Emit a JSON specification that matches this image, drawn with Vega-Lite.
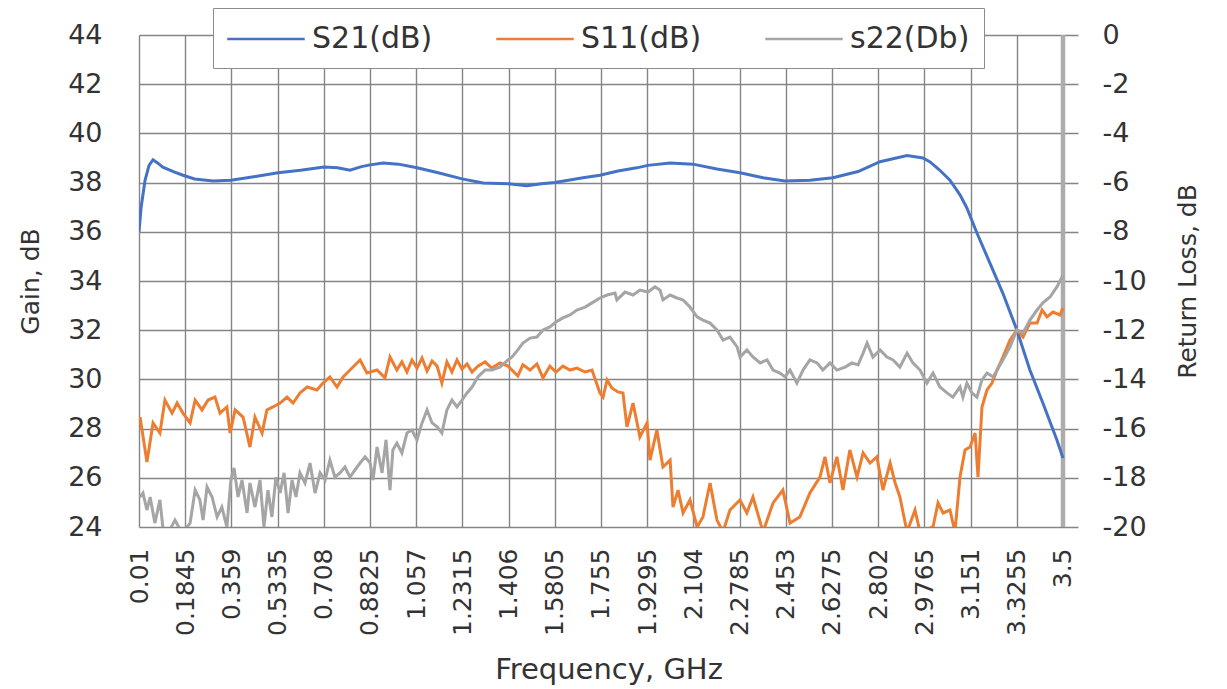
{
  "$schema": "https://vega.github.io/schema/vega-lite/v6.json",
  "width": 939,
  "height": 492,
  "autosize": {"type": "none"},
  "padding": {"left": 139, "top": 35, "right": 149, "bottom": 162},
  "background": "white",
  "config": {
    "view": {"stroke": null},
    "font": "DejaVu Sans",
    "axis": {"labelColor": "#333333", "titleColor": "#333333", "titleFontWeight": "normal", "domain": false, "ticks": false, "gridColor": "#858585", "gridWidth": 1.4, "gridOpacity": 1}
  },
  "datasets": {
    "s21": [
      {"f":0.010,"v":36.0},{"f":0.018,"v":37.0},{"f":0.033,"v":38.1},{"f":0.048,"v":38.7},{"f":0.063,"v":38.93},{"f":0.08,"v":38.8},{"f":0.10,"v":38.63},{"f":0.14,"v":38.45},{"f":0.176,"v":38.3},{"f":0.22,"v":38.15},{"f":0.29,"v":38.07},{"f":0.357,"v":38.1},{"f":0.45,"v":38.25},{"f":0.535,"v":38.4},{"f":0.62,"v":38.5},{"f":0.709,"v":38.63},{"f":0.76,"v":38.6},{"f":0.807,"v":38.5},{"f":0.85,"v":38.65},{"f":0.883,"v":38.72},{"f":0.932,"v":38.8},{"f":0.99,"v":38.75},{"f":1.06,"v":38.6},{"f":1.14,"v":38.4},{"f":1.23,"v":38.15},{"f":1.31,"v":37.98},{"f":1.404,"v":37.95},{"f":1.475,"v":37.87},{"f":1.53,"v":37.95},{"f":1.581,"v":38.0},{"f":1.687,"v":38.2},{"f":1.751,"v":38.3},{"f":1.819,"v":38.47},{"f":1.89,"v":38.6},{"f":1.932,"v":38.7},{"f":2.016,"v":38.8},{"f":2.102,"v":38.75},{"f":2.193,"v":38.55},{"f":2.28,"v":38.4},{"f":2.367,"v":38.2},{"f":2.45,"v":38.07},{"f":2.544,"v":38.1},{"f":2.631,"v":38.2},{"f":2.726,"v":38.45},{"f":2.809,"v":38.85},{"f":2.911,"v":39.1},{"f":2.971,"v":39.0},{"f":2.998,"v":38.84},{"f":3.035,"v":38.5},{"f":3.073,"v":38.1},{"f":3.111,"v":37.5},{"f":3.137,"v":36.97},{"f":3.175,"v":35.95},{"f":3.224,"v":34.73},{"f":3.273,"v":33.5},{"f":3.326,"v":32.0},{"f":3.375,"v":30.38},{"f":3.424,"v":29.04},{"f":3.477,"v":27.54},{"f":3.5,"v":26.8}
    ],
    "s11": [
      {"f":0.014,"v":-15.53},{"f":0.040,"v":-17.36},{"f":0.063,"v":-15.77},{"f":0.089,"v":-16.18},{"f":0.108,"v":-14.84},{"f":0.135,"v":-15.37},{"f":0.154,"v":-14.96},{"f":0.176,"v":-15.37},{"f":0.203,"v":-15.77},{"f":0.222,"v":-14.84},{"f":0.248,"v":-15.24},{"f":0.271,"v":-14.84},{"f":0.297,"v":-14.72},{"f":0.316,"v":-15.37},{"f":0.342,"v":-15.12},{"f":0.354,"v":-16.18},{"f":0.373,"v":-15.24},{"f":0.403,"v":-15.53},{"f":0.429,"v":-16.75},{"f":0.448,"v":-15.53},{"f":0.475,"v":-16.18},{"f":0.493,"v":-15.24},{"f":0.516,"v":-15.12},{"f":0.543,"v":-14.96},{"f":0.569,"v":-14.72},{"f":0.592,"v":-14.96},{"f":0.618,"v":-14.55},{"f":0.645,"v":-14.31},{"f":0.682,"v":-14.43},{"f":0.705,"v":-14.15},{"f":0.731,"v":-13.9},{"f":0.758,"v":-14.31},{"f":0.781,"v":-13.9},{"f":0.807,"v":-13.62},{"f":0.845,"v":-13.21},{"f":0.871,"v":-13.74},{"f":0.909,"v":-13.62},{"f":0.939,"v":-13.94},{"f":0.958,"v":-13.09},{"f":0.984,"v":-13.62},{"f":1.003,"v":-13.29},{"f":1.022,"v":-13.7},{"f":1.041,"v":-13.21},{"f":1.060,"v":-13.54},{"f":1.079,"v":-13.13},{"f":1.098,"v":-13.66},{"f":1.117,"v":-13.25},{"f":1.136,"v":-13.46},{"f":1.154,"v":-14.15},{"f":1.173,"v":-13.29},{"f":1.192,"v":-13.7},{"f":1.211,"v":-13.21},{"f":1.230,"v":-13.58},{"f":1.249,"v":-13.37},{"f":1.268,"v":-13.7},{"f":1.290,"v":-13.46},{"f":1.317,"v":-13.29},{"f":1.343,"v":-13.54},{"f":1.373,"v":-13.33},{"f":1.404,"v":-13.46},{"f":1.441,"v":-13.86},{"f":1.460,"v":-13.41},{"f":1.487,"v":-13.62},{"f":1.513,"v":-13.37},{"f":1.536,"v":-13.94},{"f":1.562,"v":-13.46},{"f":1.585,"v":-13.7},{"f":1.611,"v":-13.46},{"f":1.638,"v":-13.62},{"f":1.664,"v":-13.54},{"f":1.695,"v":-13.7},{"f":1.721,"v":-13.62},{"f":1.751,"v":-14.55},{"f":1.763,"v":-14.72},{"f":1.778,"v":-14.02},{"f":1.796,"v":-14.35},{"f":1.819,"v":-14.51},{"f":1.838,"v":-14.55},{"f":1.853,"v":-15.93},{"f":1.876,"v":-14.96},{"f":1.902,"v":-16.34},{"f":1.929,"v":-15.77},{"f":1.940,"v":-17.28},{"f":1.966,"v":-16.06},{"f":1.989,"v":-17.56},{"f":2.016,"v":-17.28},{"f":2.027,"v":-19.19},{"f":2.046,"v":-18.5},{"f":2.065,"v":-19.43},{"f":2.091,"v":-18.9},{"f":2.118,"v":-20.0},{"f":2.140,"v":-19.59},{"f":2.167,"v":-18.21},{"f":2.193,"v":-19.72},{"f":2.216,"v":-20.2},{"f":2.242,"v":-19.31},{"f":2.280,"v":-18.9},{"f":2.306,"v":-19.43},{"f":2.329,"v":-18.78},{"f":2.367,"v":-20.2},{"f":2.405,"v":-19.02},{"f":2.442,"v":-18.5},{"f":2.469,"v":-19.84},{"f":2.506,"v":-19.59},{"f":2.544,"v":-18.62},{"f":2.582,"v":-17.97},{"f":2.601,"v":-17.15},{"f":2.620,"v":-18.21},{"f":2.646,"v":-17.15},{"f":2.669,"v":-18.5},{"f":2.695,"v":-16.87},{"f":2.722,"v":-17.97},{"f":2.745,"v":-16.99},{"f":2.771,"v":-17.4},{"f":2.797,"v":-17.15},{"f":2.820,"v":-18.5},{"f":2.847,"v":-17.4},{"f":2.866,"v":-18.21},{"f":2.884,"v":-18.78},{"f":2.911,"v":-20.2},{"f":2.941,"v":-19.31},{"f":2.960,"v":-20.2},{"f":3.009,"v":-20.0},{"f":3.028,"v":-19.02},{"f":3.047,"v":-19.43},{"f":3.073,"v":-19.31},{"f":3.092,"v":-20.2},{"f":3.111,"v":-17.97},{"f":3.130,"v":-16.87},{"f":3.149,"v":-16.75},{"f":3.168,"v":-16.18},{"f":3.179,"v":-17.97},{"f":3.194,"v":-15.12},{"f":3.213,"v":-14.43},{"f":3.232,"v":-14.15},{"f":3.251,"v":-13.62},{"f":3.273,"v":-13.09},{"f":3.300,"v":-12.4},{"f":3.326,"v":-11.99},{"f":3.349,"v":-12.28},{"f":3.375,"v":-11.71},{"f":3.402,"v":-11.71},{"f":3.421,"v":-11.18},{"f":3.440,"v":-11.46},{"f":3.462,"v":-11.26},{"f":3.489,"v":-11.38},{"f":3.5,"v":-11.1}
    ],
    "s22": [
      {"f":0.014,"v":-18.78},{"f":0.025,"v":-18.62},{"f":0.040,"v":-19.31},{"f":0.052,"v":-18.78},{"f":0.070,"v":-19.84},{"f":0.089,"v":-18.9},{"f":0.101,"v":-20.1},{"f":0.127,"v":-20.1},{"f":0.146,"v":-19.72},{"f":0.165,"v":-20.1},{"f":0.184,"v":-20.1},{"f":0.203,"v":-19.84},{"f":0.222,"v":-18.5},{"f":0.240,"v":-18.9},{"f":0.252,"v":-19.72},{"f":0.267,"v":-18.37},{"f":0.286,"v":-18.78},{"f":0.305,"v":-19.59},{"f":0.323,"v":-19.19},{"f":0.342,"v":-20.0},{"f":0.357,"v":-18.09},{"f":0.369,"v":-17.6},{"f":0.384,"v":-18.78},{"f":0.399,"v":-18.09},{"f":0.418,"v":-19.43},{"f":0.429,"v":-18.21},{"f":0.448,"v":-19.19},{"f":0.467,"v":-18.09},{"f":0.482,"v":-20.0},{"f":0.497,"v":-18.5},{"f":0.512,"v":-19.59},{"f":0.527,"v":-17.97},{"f":0.543,"v":-18.62},{"f":0.558,"v":-17.8},{"f":0.573,"v":-19.43},{"f":0.588,"v":-18.09},{"f":0.603,"v":-18.78},{"f":0.618,"v":-17.8},{"f":0.637,"v":-18.21},{"f":0.656,"v":-17.4},{"f":0.675,"v":-18.62},{"f":0.694,"v":-17.8},{"f":0.713,"v":-18.09},{"f":0.731,"v":-17.28},{"f":0.750,"v":-17.97},{"f":0.769,"v":-17.8},{"f":0.788,"v":-17.56},{"f":0.807,"v":-17.97},{"f":0.826,"v":-17.68},{"f":0.845,"v":-17.4},{"f":0.864,"v":-17.15},{"f":0.883,"v":-17.4},{"f":0.894,"v":-18.09},{"f":0.909,"v":-16.75},{"f":0.928,"v":-17.8},{"f":0.943,"v":-16.46},{"f":0.958,"v":-18.5},{"f":0.969,"v":-16.87},{"f":0.984,"v":-16.59},{"f":1.003,"v":-16.99},{"f":1.022,"v":-16.18},{"f":1.041,"v":-16.06},{"f":1.060,"v":-16.46},{"f":1.079,"v":-15.77},{"f":1.098,"v":-15.24},{"f":1.117,"v":-15.77},{"f":1.136,"v":-15.93},{"f":1.154,"v":-16.18},{"f":1.173,"v":-15.24},{"f":1.192,"v":-14.84},{"f":1.211,"v":-15.12},{"f":1.230,"v":-14.84},{"f":1.249,"v":-14.55},{"f":1.268,"v":-14.31},{"f":1.290,"v":-13.9},{"f":1.317,"v":-13.62},{"f":1.343,"v":-13.62},{"f":1.373,"v":-13.5},{"f":1.404,"v":-13.21},{"f":1.419,"v":-13.09},{"f":1.441,"v":-12.8},{"f":1.460,"v":-12.52},{"f":1.487,"v":-12.32},{"f":1.513,"v":-12.28},{"f":1.536,"v":-11.99},{"f":1.562,"v":-11.87},{"f":1.585,"v":-11.67},{"f":1.611,"v":-11.5},{"f":1.638,"v":-11.38},{"f":1.664,"v":-11.18},{"f":1.695,"v":-11.06},{"f":1.721,"v":-10.89},{"f":1.751,"v":-10.69},{"f":1.778,"v":-10.57},{"f":1.808,"v":-10.49},{"f":1.815,"v":-10.77},{"f":1.846,"v":-10.45},{"f":1.876,"v":-10.57},{"f":1.902,"v":-10.37},{"f":1.932,"v":-10.45},{"f":1.959,"v":-10.24},{"f":1.978,"v":-10.37},{"f":1.989,"v":-10.77},{"f":2.016,"v":-10.57},{"f":2.042,"v":-10.69},{"f":2.065,"v":-10.77},{"f":2.091,"v":-11.06},{"f":2.118,"v":-11.46},{"f":2.140,"v":-11.59},{"f":2.167,"v":-11.71},{"f":2.193,"v":-11.99},{"f":2.216,"v":-12.4},{"f":2.242,"v":-12.28},{"f":2.269,"v":-12.68},{"f":2.280,"v":-13.09},{"f":2.306,"v":-12.8},{"f":2.329,"v":-13.09},{"f":2.356,"v":-13.33},{"f":2.382,"v":-13.21},{"f":2.405,"v":-13.62},{"f":2.431,"v":-13.74},{"f":2.450,"v":-13.9},{"f":2.469,"v":-13.62},{"f":2.495,"v":-14.15},{"f":2.518,"v":-13.62},{"f":2.544,"v":-13.21},{"f":2.571,"v":-13.33},{"f":2.593,"v":-13.62},{"f":2.620,"v":-13.33},{"f":2.646,"v":-13.62},{"f":2.677,"v":-13.5},{"f":2.703,"v":-13.33},{"f":2.726,"v":-13.41},{"f":2.745,"v":-12.93},{"f":2.760,"v":-12.52},{"f":2.782,"v":-13.09},{"f":2.809,"v":-12.8},{"f":2.835,"v":-13.09},{"f":2.858,"v":-13.21},{"f":2.884,"v":-13.5},{"f":2.911,"v":-12.93},{"f":2.933,"v":-13.33},{"f":2.960,"v":-13.62},{"f":2.986,"v":-14.15},{"f":3.009,"v":-13.74},{"f":3.035,"v":-14.31},{"f":3.062,"v":-14.55},{"f":3.084,"v":-14.72},{"f":3.111,"v":-14.31},{"f":3.122,"v":-14.72},{"f":3.137,"v":-14.15},{"f":3.156,"v":-14.55},{"f":3.175,"v":-14.72},{"f":3.194,"v":-14.02},{"f":3.213,"v":-13.74},{"f":3.236,"v":-13.9},{"f":3.251,"v":-13.62},{"f":3.273,"v":-13.21},{"f":3.300,"v":-12.68},{"f":3.326,"v":-11.99},{"f":3.349,"v":-12.11},{"f":3.375,"v":-11.59},{"f":3.402,"v":-11.18},{"f":3.424,"v":-10.89},{"f":3.451,"v":-10.65},{"f":3.477,"v":-10.24},{"f":3.5,"v":-9.76}
    ],
    "edge": [{"f": 3.5}]
  },
  "layer": [
    {
      "data": {"name": "edge"},
      "mark": {"type": "rule", "color": "#acacac", "strokeWidth": 4.5},
      "encoding": {
        "x": {"field": "f", "type": "quantitative", "scale": {"domain": [0.01, 3.5567], "nice": false, "zero": false}}
      }
    },
    {
      "data": {"name": "s21"},
      "mark": {"type": "line", "strokeWidth": 3, "clip": true},
      "encoding": {
        "x": {
          "field": "f", "type": "quantitative",
          "scale": {"domain": [0.01, 3.5567], "nice": false, "zero": false},
          "axis": {
            "values": [0.01, 0.1845, 0.359, 0.5335, 0.708, 0.8825, 1.057, 1.2315, 1.406, 1.5805, 1.755, 1.9295, 2.104, 2.2785, 2.453, 2.6275, 2.802, 2.9765, 3.151, 3.3255, 3.5],
            "labelExpr": "'' + datum.value",
            "labelAngle": 270,
            "labelFontSize": 25,
            "labelPadding": 21,
            "labelOverlap": false,
            "labelFlush": false,
            "grid": true,
            "title": "Frequency, GHz",
            "titleFontSize": 29,
            "titleY": 151,
            "titleBaseline": "alphabetic"
          }
        },
        "y": {
          "field": "v", "type": "quantitative",
          "scale": {"domain": [24, 44], "nice": false, "zero": false},
          "axis": {
            "values": [24, 26, 28, 30, 32, 34, 36, 38, 40, 42, 44],
            "labelFontSize": 27,
            "labelPadding": 37,
            "grid": true,
            "title": "Gain, dB",
            "titleFontSize": 25,
            "titleAngle": 270,
            "titleX": -109,
            "titleY": 246,
            "titleAlign": "center",
            "titleBaseline": "middle"
          }
        },
        "color": {
          "datum": "S21(dB)",
          "type": "nominal",
          "scale": {"domain": ["S21(dB)", "S11(dB)", "s22(Db)"], "range": ["#4472C4", "#ED7D31", "#A5A5A5"]},
          "legend": {
            "orient": "none",
            "legendX": 74,
            "legendY": -27,
            "direction": "horizontal",
            "title": null,
            "symbolType": "M-2.5,0H2.5",
            "symbolSize": 961,
            "symbolOffset": 22,
            "symbolStrokeWidth": 2.6,
            "symbolFillColor": "transparent",
            "labelFontSize": 30,
            "labelOffset": 29,
            "labelColor": "#333333",
            "labelLimit": 300,
            "columnPadding": 58,
            "padding": 14,
            "fillColor": "white",
            "strokeColor": "#8c8c8c"
          }
        }
      }
    },
    {
      "layer": [
        {
          "data": {"name": "s11"},
          "mark": {"type": "line", "strokeWidth": 3, "clip": true},
          "encoding": {
            "x": {"field": "f", "type": "quantitative"},
            "y": {
              "field": "v", "type": "quantitative",
              "scale": {"domain": [-20, 0], "nice": false, "zero": false},
              "axis": {
                "orient": "right",
                "values": [-20, -18, -16, -14, -12, -10, -8, -6, -4, -2, 0],
                "labelExpr": "'' + datum.value",
                "labelFontSize": 27,
                "labelPadding": 24,
                "grid": false,
                "title": "Return Loss, dB",
                "titleFontSize": 25,
                "titleAngle": 270,
                "titleX": 109,
                "titleY": 246,
                "titleAlign": "center",
                "titleBaseline": "middle"
              }
            },
            "color": {"datum": "S11(dB)", "type": "nominal"}
          }
        },
        {
          "data": {"name": "s22"},
          "mark": {"type": "line", "strokeWidth": 3, "clip": true},
          "encoding": {
            "x": {"field": "f", "type": "quantitative"},
            "y": {"field": "v", "type": "quantitative"},
            "color": {"datum": "s22(Db)", "type": "nominal"}
          }
        }
      ]
    }
  ],
  "resolve": {"scale": {"y": "independent"}}
}
